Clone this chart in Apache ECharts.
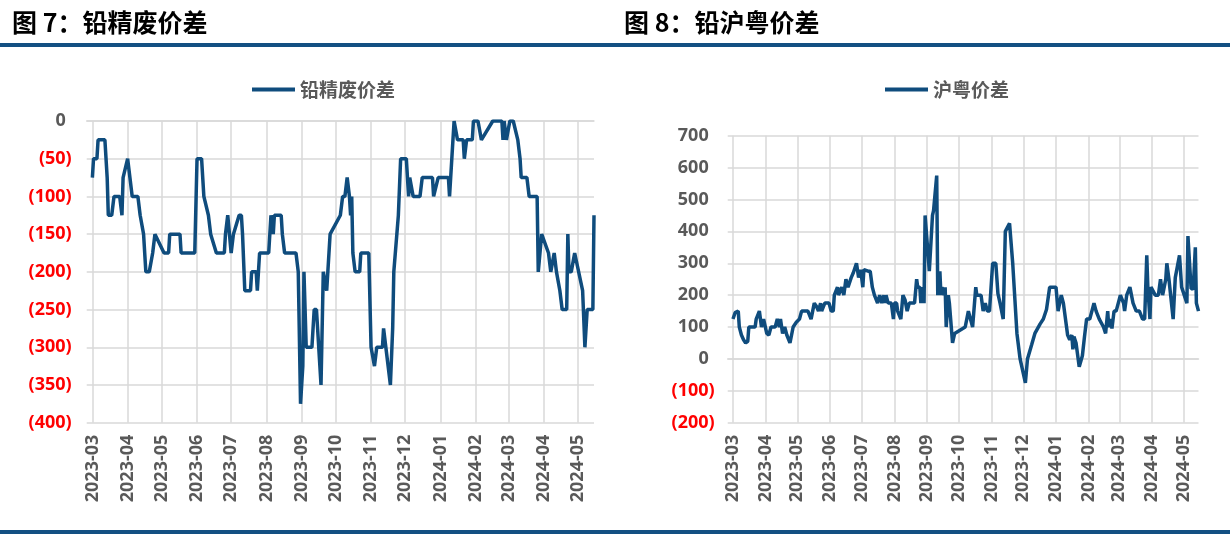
<!DOCTYPE html>
<html>
<head>
<meta charset="utf-8">
<script src="https://cdn.jsdelivr.net/npm/echarts@6/dist/echarts.min.js"></script>
<style>
html,body{margin:0;padding:0;background:#fff;}
#c{width:1230px;height:534px;}
</style>
</head>
<body>
<div id="c"></div>
<script>
// ---------- DATA ----------
const axisStart = '2023-02-24';
const axisEnd = '2024-05-15';

const leftName = '铅精废价差';
const leftDates = ['2023-03-01','2023-03-02','2023-03-05','2023-03-06','2023-03-12','2023-03-14','2023-03-15','2023-03-18','2023-03-20','2023-03-25','2023-03-27','2023-03-28','2023-04-01','2023-04-05','2023-04-10','2023-04-12','2023-04-15','2023-04-17','2023-04-20','2023-04-23','2023-04-25','2023-05-03','2023-05-07','2023-05-08','2023-05-17','2023-05-18','2023-05-30','2023-06-01','2023-06-05','2023-06-07','2023-06-11','2023-06-13','2023-06-18','2023-06-25','2023-06-26','2023-06-28','2023-07-01','2023-07-03','2023-07-08','2023-07-10','2023-07-11','2023-07-13','2023-07-18','2023-07-19','2023-07-23','2023-07-24','2023-07-26','2023-08-03','2023-08-05','2023-08-07','2023-08-08','2023-08-14','2023-08-15','2023-08-17','2023-08-27','2023-08-29','2023-08-31','2023-09-02','2023-09-03','2023-09-05','2023-09-10','2023-09-12','2023-09-14','2023-09-18','2023-09-20','2023-09-23','2023-09-26','2023-10-05','2023-10-07','2023-10-09','2023-10-11','2023-10-13','2023-10-14','2023-10-15','2023-10-16','2023-10-18','2023-10-22','2023-10-23','2023-10-30','2023-11-01','2023-11-04','2023-11-06','2023-11-11','2023-11-12','2023-11-14','2023-11-18','2023-11-20','2023-11-21','2023-11-25','2023-11-27','2023-12-02','2023-12-04','2023-12-05','2023-12-08','2023-12-14','2023-12-16','2023-12-25','2023-12-26','2023-12-30','2024-01-08','2024-01-09','2024-01-11','2024-01-13','2024-01-16','2024-01-21','2024-01-22','2024-01-24','2024-01-29','2024-01-30','2024-02-03','2024-02-06','2024-02-16','2024-02-24','2024-02-25','2024-02-26','2024-02-28','2024-03-02','2024-03-05','2024-03-09','2024-03-11','2024-03-12','2024-03-17','2024-03-19','2024-03-26','2024-03-27','2024-03-30','2024-04-05','2024-04-07','2024-04-10','2024-04-12','2024-04-15','2024-04-17','2024-04-21','2024-04-22','2024-04-23','2024-04-25','2024-04-28','2024-05-05','2024-05-07','2024-05-09','2024-05-14','2024-05-15'];
const leftValues = [-75,-50,-50,-25,-25,-75,-125,-125,-100,-100,-125,-75,-50,-100,-100,-125,-150,-200,-200,-175,-150,-175,-175,-150,-150,-175,-175,-50,-50,-100,-125,-150,-175,-175,-150,-125,-175,-150,-125,-125,-150,-225,-225,-200,-200,-225,-175,-175,-125,-150,-125,-125,-150,-175,-175,-200,-375,-325,-200,-300,-300,-250,-250,-350,-200,-225,-150,-125,-100,-100,-75,-100,-125,-100,-175,-200,-200,-175,-175,-300,-325,-300,-300,-275,-300,-350,-275,-200,-125,-50,-50,-100,-75,-100,-100,-75,-75,-100,-75,-75,-100,-50,0,-25,-25,-50,-25,-25,0,0,-25,0,0,-25,0,-25,0,0,-25,-50,-75,-75,-100,-100,-200,-150,-175,-200,-175,-200,-225,-250,-250,-150,-200,-200,-175,-225,-300,-250,-250,-125];

const rightName = '沪粤价差';
const rightDates = ['2023-03-01','2023-03-03','2023-03-06','2023-03-07','2023-03-09','2023-03-11','2023-03-13','2023-03-15','2023-03-16','2023-03-18','2023-03-22','2023-03-23','2023-03-26','2023-03-27','2023-03-28','2023-03-30','2023-04-02','2023-04-04','2023-04-06','2023-04-10','2023-04-12','2023-04-14','2023-04-15','2023-04-17','2023-04-19','2023-04-21','2023-04-24','2023-04-27','2023-04-30','2023-05-03','2023-05-05','2023-05-11','2023-05-14','2023-05-17','2023-05-19','2023-05-21','2023-05-23','2023-05-24','2023-05-27','2023-05-31','2023-06-02','2023-06-04','2023-06-05','2023-06-08','2023-06-09','2023-06-12','2023-06-14','2023-06-16','2023-06-18','2023-06-21','2023-06-23','2023-06-26','2023-06-28','2023-06-30','2023-07-02','2023-07-03','2023-07-07','2023-07-09','2023-07-11','2023-07-13','2023-07-16','2023-07-18','2023-07-20','2023-07-22','2023-07-23','2023-07-24','2023-07-26','2023-07-29','2023-07-31','2023-08-01','2023-08-03','2023-08-04','2023-08-07','2023-08-09','2023-08-11','2023-08-13','2023-08-15','2023-08-20','2023-08-22','2023-08-23','2023-08-25','2023-08-26','2023-08-28','2023-08-29','2023-08-30','2023-09-03','2023-09-06','2023-09-07','2023-09-10','2023-09-11','2023-09-13','2023-09-14','2023-09-15','2023-09-17','2023-09-18','2023-09-19','2023-09-21','2023-09-22','2023-09-25','2023-09-27','2023-10-07','2023-10-10','2023-10-14','2023-10-17','2023-10-18','2023-10-22','2023-10-24','2023-10-26','2023-10-28','2023-10-30','2023-11-02','2023-11-05','2023-11-07','2023-11-09','2023-11-12','2023-11-14','2023-11-18','2023-11-21','2023-11-25','2023-11-28','2023-12-03','2023-12-05','2023-12-09','2023-12-12','2023-12-17','2023-12-20','2023-12-23','2023-12-26','2023-12-29','2024-01-01','2024-01-03','2024-01-06','2024-01-08','2024-01-11','2024-01-12','2024-01-14','2024-01-16','2024-01-17','2024-01-18','2024-01-20','2024-01-23','2024-01-26','2024-01-28','2024-01-30','2024-02-02','2024-02-04','2024-02-06','2024-02-08','2024-02-11','2024-02-15','2024-02-17','2024-02-19','2024-02-20','2024-02-22','2024-02-23','2024-02-25','2024-02-27','2024-02-29','2024-03-02','2024-03-05','2024-03-06','2024-03-08','2024-03-11','2024-03-14','2024-03-17','2024-03-20','2024-03-23','2024-03-25','2024-03-27','2024-03-28','2024-03-30','2024-03-31','2024-04-04','2024-04-07','2024-04-09','2024-04-11','2024-04-14','2024-04-15','2024-04-17','2024-04-21','2024-04-23','2024-04-27','2024-04-29','2024-05-04','2024-05-05','2024-05-08','2024-05-10','2024-05-12','2024-05-13','2024-05-15'];
const rightValues = [125,145,150,100,75,60,50,55,100,100,100,125,150,125,100,125,80,75,100,100,125,100,125,80,100,75,50,100,115,125,150,150,125,175,165,150,175,150,175,175,150,150,200,225,200,225,200,250,225,255,270,300,255,280,225,280,275,275,225,200,175,200,175,200,175,200,175,175,125,175,175,150,125,200,185,150,175,175,250,225,225,175,225,175,450,275,450,465,575,200,275,200,225,200,225,100,200,175,50,80,100,150,100,225,200,200,150,175,150,150,300,300,205,175,125,400,425,300,80,0,-75,0,45,80,110,125,155,225,225,225,150,200,175,100,75,60,75,30,70,50,-25,10,70,125,125,150,175,150,125,100,80,150,100,125,95,150,150,175,200,175,150,200,225,175,150,150,125,125,325,225,125,225,200,200,250,200,250,300,250,125,255,325,225,175,385,220,220,350,175,150];

const leftTicks = {min: -400, max: 0, interval: 50};
const rightTicks = {min: -200, max: 700, interval: 100};

// ---------- BUILD ----------
function buildDays(a, b) {
  const out = [];
  let t = Date.UTC(+a.slice(0,4), +a.slice(5,7)-1, +a.slice(8,10));
  const end = Date.UTC(+b.slice(0,4), +b.slice(5,7)-1, +b.slice(8,10));
  while (t <= end) {
    const d = new Date(t);
    out.push(d.getUTCFullYear() + '-' + String(d.getUTCMonth()+1).padStart(2,'0') + '-' + String(d.getUTCDate()).padStart(2,'0'));
    t += 86400000;
  }
  return out;
}
const days = buildDays(axisStart, axisEnd);
function seriesData(dates, values) {
  const m = {};
  dates.forEach((d, i) => { m[d] = values[i]; });
  return days.map(d => (d in m ? m[d] : null));
}

const FONT = '"Noto Sans", "Liberation Sans", Arial, sans-serif';
const CJK = '"Noto Sans CJK SC", sans-serif';
const GRAY = '#595959';
const LINE = '#0F4C7D';
const GRID = '#D9D9D9';
const isMonthStart = (i, v) => v.slice(8) === '01';

function xAxis(gi) {
  return {
    type: 'category', gridIndex: gi, data: days, boundaryGap: false,
    axisLine: {show: true, lineStyle: {color: GRID, width: 1.5}},
    axisTick: {show: false},
    axisLabel: {interval: isMonthStart, rotate: 90, margin: 12, color: GRAY,
      fontFamily: FONT, fontWeight: 'bold', fontSize: 18,
      formatter: v => v.slice(0, 7)},
    splitLine: {show: true, interval: isMonthStart, lineStyle: {color: GRID, width: 1.5}}
  };
}
function yAxis(gi, t, margin) {
  return {
    type: 'value', gridIndex: gi, min: t.min, max: t.max, interval: t.interval,
    axisLine: {show: false}, axisTick: {show: false},
    splitLine: {show: true, lineStyle: {color: GRID, width: 1.5}},
    axisLabel: {margin: margin, fontFamily: FONT, fontWeight: 'bold', fontSize: 18,
      formatter: v => v < 0 ? '{r|(' + (-v) + ')}' : '{g|' + v + '}',
      rich: {
        r: {color: '#FF0000', fontFamily: FONT, fontWeight: 'bold', fontSize: 18},
        g: {color: GRAY, fontFamily: FONT, fontWeight: 'bold', fontSize: 18, padding: [0, 6, 0, 0]}
      }}
  };
}

const chart = echarts.init(document.getElementById('c'), null, {renderer: 'canvas'});
chart.setOption({
  backgroundColor: '#fff',
  animation: false,
  graphic: [
    {type: 'text', left: 12, top: 10, style: {text: '图 7：铅精废价差', font: 'bold 25px ' + CJK, fill: '#000'}},
    {type: 'text', left: 624, top: 10, style: {text: '图 8：铅沪粤价差', font: 'bold 25px ' + CJK, fill: '#000'}},
    {type: 'rect', shape: {x: 0, y: 43, width: 1230, height: 4}, style: {fill: '#135082'}},
    {type: 'rect', shape: {x: 0, y: 530, width: 1230, height: 4}, style: {fill: '#135082'}}
  ],
  legend: [
    {data: [leftName], left: 247, top: 75, icon: 'rect', itemWidth: 43, itemHeight: 4,
      textStyle: {fontFamily: CJK, fontWeight: 'bold', fontSize: 19, color: GRAY}},
    {data: [rightName], left: 880, top: 75, icon: 'rect', itemWidth: 43, itemHeight: 4,
      textStyle: {fontFamily: CJK, fontWeight: 'bold', fontSize: 19, color: GRAY}}
  ],
  grid: [
    {left: 86.7, top: 121, width: 507.3, height: 301.7},
    {left: 727.7, top: 135.7, width: 470.8, height: 287}
  ],
  xAxis: [xAxis(0), xAxis(1)],
  yAxis: [yAxis(0, leftTicks, 15), yAxis(1, rightTicks, 13)],
  series: [
    {name: leftName, type: 'line', xAxisIndex: 0, yAxisIndex: 0, data: seriesData(leftDates, leftValues),
      connectNulls: true, symbol: 'none', lineStyle: {color: LINE, width: 3.5}, itemStyle: {color: LINE}},
    {name: rightName, type: 'line', xAxisIndex: 1, yAxisIndex: 1, data: seriesData(rightDates, rightValues),
      connectNulls: true, symbol: 'none', lineStyle: {color: LINE, width: 3.5}, itemStyle: {color: LINE}}
  ]
});
</script>
</body>
</html>
